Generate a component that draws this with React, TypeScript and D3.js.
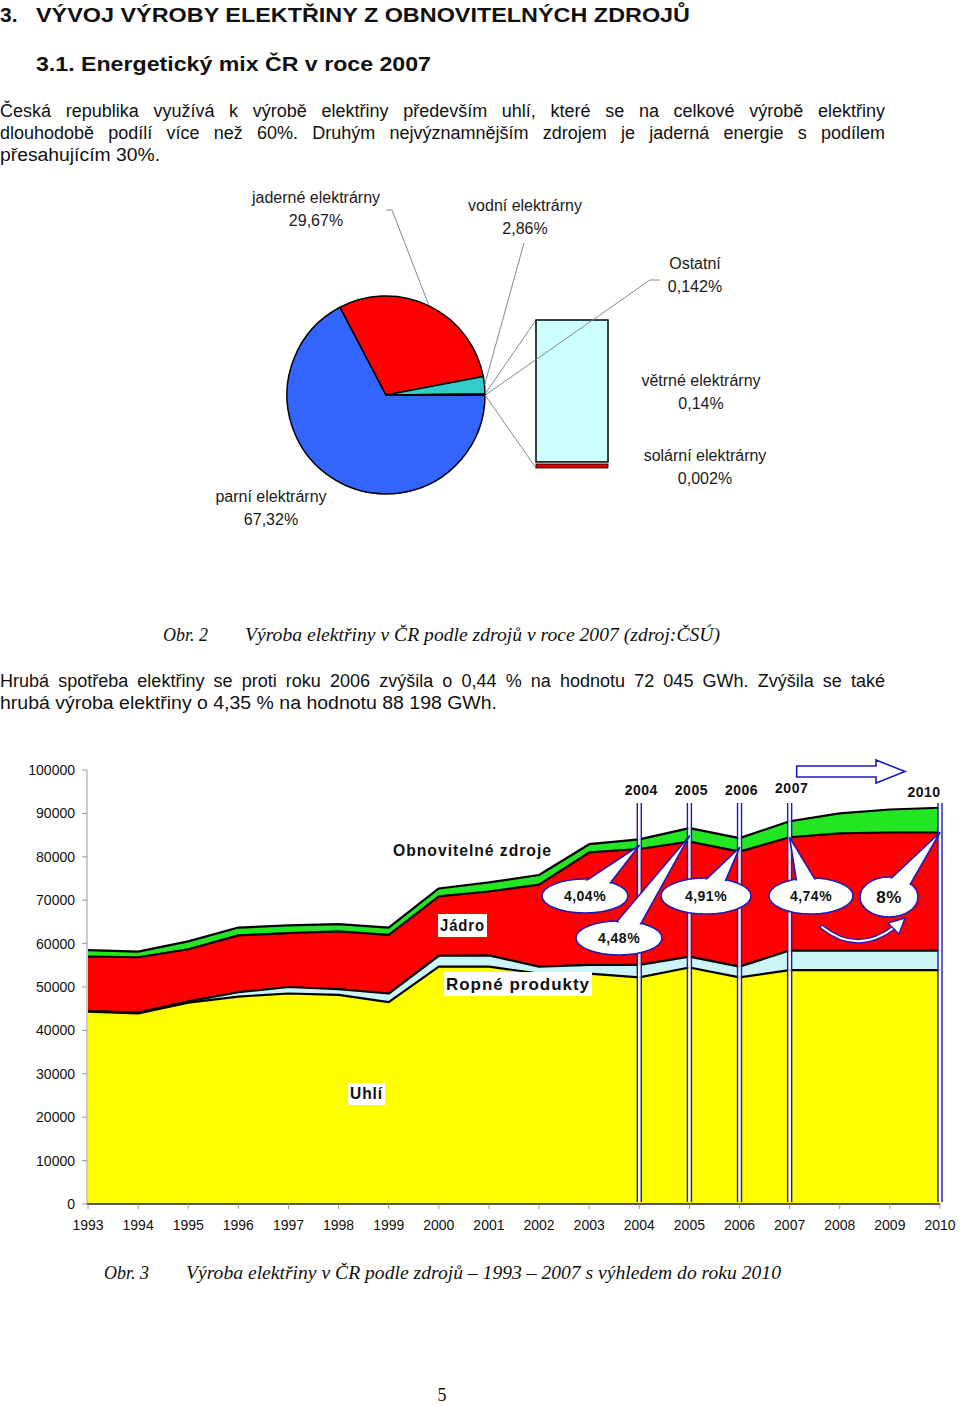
import React from "react";
import * as d3 from "d3";

// ---------- Pie data (2007 mix) ----------
const pieLabels = ["parní elektrárny", "jaderné elektrárny", "vodní elektrárny", "Ostatní"];
const pieValues = [67.32, 29.67, 2.86, 0.142];
const pieColors = ["#3366ff", "#ff0000", "#33cccc", "#ccffff"];
const pieTexts = ["67,32%", "29,67%", "2,86%", "0,142%"];

const barLabels = ["solární elektrárny", "větrné elektrárny"];
const barValues = [0.002, 0.14];
const barTexts = ["0,002%", "0,14%"];
const barColors = ["#e00000", "#ccffff"];

// ---------- Area chart data ----------
const years = [1993, 1994, 1995, 1996, 1997, 1998, 1999, 2000, 2001, 2002, 2003, 2004, 2005, 2006, 2007, 2008, 2009, 2010];
const coal = [44300, 43900, 46400, 47800, 48500, 48200, 46500, 54700, 54700, 53100, 53100, 52200, 54500, 52200, 53900, 53900, 53900, 53900];
const oil = [200, 200, 300, 1000, 1500, 1300, 2000, 2500, 2600, 1600, 2000, 2900, 2500, 2500, 4500, 4500, 4500, 4500];
const nuclear = [12500, 12750, 12000, 13100, 12400, 13300, 13500, 13700, 14700, 18900, 25900, 26700, 26500, 26500, 26100, 27000, 27200, 27200];
const renewables = [1500, 1300, 1800, 1800, 1800, 1700, 1700, 1800, 2100, 2200, 1900, 2200, 3100, 3100, 3700, 4600, 5300, 5700];
const seriesKeys = ["coal", "oil", "nuclear", "renewables"];
const seriesColors = ["#ffff00", "#ccf5f7", "#ff0000", "#22e622"];
const yTicks = [0, 10000, 20000, 30000, 40000, 50000, 60000, 70000, 80000, 90000, 100000];

const markYears = [2004, 2005, 2006, 2007, 2010];
const callouts = [
  { label: "4,04%", year: 2004, tipV: 82600, cx: 585, cy: 896, rx: 43, ry: 17, fs: 14 },
  { label: "4,48%", year: 2005, tipV: 84800, cx: 619, cy: 938, rx: 43, ry: 17, fs: 14 },
  { label: "4,91%", year: 2006, tipV: 82100, cx: 706, cy: 896, rx: 45, ry: 18, fs: 14 },
  { label: "4,74%", year: 2007, tipV: 84400, cx: 811, cy: 896, rx: 42, ry: 18, fs: 14 },
  { label: "8%", year: 2010, tipV: 85600, cx: 889, cy: 897, rx: 29, ry: 20, fs: 17 },
];

const SANS = "'Liberation Sans', Arial, Helvetica, sans-serif";
const SERIF = "'Liberation Serif', 'Times New Roman', serif";
const BLUE = "#1c1cb4";

let measureCtx: CanvasRenderingContext2D | null = null;
function measure(text: string, font: string): number {
  try {
    if (!measureCtx) measureCtx = document.createElement("canvas").getContext("2d");
    if (!measureCtx) return 0;
    measureCtx.font = font;
    return measureCtx.measureText(text).width;
  } catch (e) {
    return 0;
  }
}

function Justified({ text, x, y, width, size }: { text: string; x: number; y: number; width: number; size: number }) {
  const t = text.replace(/\s+/g, " ");
  const natural = measure(t, `${size}px 'Liberation Sans'`);
  const spaces = (t.match(/ /g) || []).length;
  if (natural > 0 && natural < width && spaces > 0) {
    const ws = (width - natural) / spaces;
    return <text x={x} y={y} fontSize={size} wordSpacing={ws}>{t}</text>;
  }
  return <text x={x} y={y} fontSize={size} textLength={width} lengthAdjust="spacingAndGlyphs">{t}</text>;
}

function PieSection() {
  const cx = 386, cy = 395, r = 99;
  const pie = d3.pie<number>().sort(null).startAngle(Math.PI / 2).endAngle(Math.PI / 2 + 2 * Math.PI);
  const arcs = pie(pieValues);
  const arc = d3.arc<d3.PieArcDatum<number>>().innerRadius(0).outerRadius(r);
  const pt = (a: number, rr = r) => [cx + rr * Math.sin(a), cy - rr * Math.cos(a)];

  const barX = 536, barW = 72;
  const yb = d3.scaleLinear().domain([0, d3.sum(barValues)]).range([468, 320]);
  const stackB = d3.cumsum(barValues);

  const ost = arcs[3];
  const p0 = pt(ost.startAngle);
  const p1 = pt(ost.endAngle);
  const jad = pt((arcs[1].startAngle + arcs[1].endAngle) / 2);
  const vod = pt((arcs[2].startAngle + arcs[2].endAngle) / 2);
  const ostM = pt((ost.startAngle + ost.endAngle) / 2);

  const lbl = (x: number, y: number, t1: string, t2: string, key: string) => (
    <g key={key} fontFamily={SANS} fontSize={16} fill="#1a1a1a" textAnchor="middle">
      <text x={x} y={y}>{t1}</text>
      <text x={x} y={y + 23}>{t2}</text>
    </g>
  );

  return (
    <g>
      {arcs.map((a, i) => (
        <path key={i} d={arc(a) || ""} transform={`translate(${cx},${cy})`} fill={pieColors[i]} stroke="#000" strokeWidth={1.5} />
      ))}
      {/* connectors to the exploded bar */}
      <line x1={p0[0]} y1={p0[1]} x2={barX} y2={yb(d3.sum(barValues))} stroke="#888" strokeWidth={1} />
      <line x1={p1[0]} y1={p1[1]} x2={barX} y2={yb(0)} stroke="#888" strokeWidth={1} />
      {barValues.map((v, i) => {
        const top = yb(stackB[i]);
        const bottom = yb(stackB[i] - v);
        const h = Math.max(4, bottom - top);
        return (
          <rect key={i} x={barX} y={i === 0 ? bottom - h : top} width={barW} height={i === 0 ? h : h - 4}
            fill={barColors[i]} stroke="#000" strokeWidth={i === 0 ? 0.8 : 1.5} />
        );
      })}
      {/* leader lines */}
      <polyline points={`386,210 392,210 ${jad[0]},${jad[1]}`} fill="none" stroke="#888" strokeWidth={1} />
      <polyline points={`524,243 ${vod[0]},${vod[1]}`} fill="none" stroke="#888" strokeWidth={1} />
      <polyline points={`660,280 650,280 ${ostM[0] + 1},${ostM[1]}`} fill="none" stroke="#888" strokeWidth={1} />
      {lbl(316, 203, pieLabels[1], pieTexts[1], "j")}
      {lbl(525, 211, pieLabels[2], pieTexts[2], "v")}
      {lbl(695, 269, pieLabels[3], pieTexts[3], "o")}
      {lbl(701, 386, barLabels[1], barTexts[1], "w")}
      {lbl(705, 461, barLabels[0], barTexts[0], "s")}
      {lbl(271, 502, pieLabels[0], pieTexts[0], "p")}
    </g>
  );
}

function AreaSection() {
  const x = d3.scaleLinear().domain([1993, 2010]).range([88, 940]);
  const y = d3.scaleLinear().domain([0, 100000]).range([1204, 770]);
  const rows = years.map((yr, i) => ({ year: yr, coal: coal[i], oil: oil[i], nuclear: nuclear[i], renewables: renewables[i] }));
  const stacked = d3.stack<any>().keys(seriesKeys)(rows);
  const area = d3.area<any>().x((d) => x(d.data.year)).y0((d) => y(d[0])).y1((d) => y(d[1]));
  const line = d3.line<any>().x((d) => x(d.data.year)).y((d) => y(d[1]));

  const callout = (c: typeof callouts[0], i: number) => {
    const tx = x(c.year), ty = y(c.tipV);
    const dx = tx - c.cx, dy = ty - c.cy;
    const len = Math.hypot(dx, dy);
    const px = -dy / len, py = dx / len;
    const w = 11;
    const b1 = [c.cx + px * w + dx * 0.1, c.cy + py * w + dy * 0.1];
    const b2 = [c.cx - px * w + dx * 0.1, c.cy - py * w + dy * 0.1];
    const tri = `M${tx},${ty}L${b1[0]},${b1[1]}L${b2[0]},${b2[1]}Z`;
    return (
      <g key={i}>
        <ellipse cx={c.cx} cy={c.cy} rx={c.rx} ry={c.ry} fill="#fff" stroke={BLUE} strokeWidth={1.6} />
        <path d={tri} fill="#fff" stroke={BLUE} strokeWidth={1.6} strokeLinejoin="round" />
        <ellipse cx={c.cx} cy={c.cy} rx={c.rx - 1.4} ry={c.ry - 1.4} fill="#fff" />
        <text x={c.cx} y={c.cy + c.fs * 0.36} textAnchor="middle" fontFamily={SANS} fontWeight="bold" fontSize={c.fs} letterSpacing={0.5} fill="#111">{c.label}</text>
      </g>
    );
  };

  const boxLabel = (t: string, bx: number, by: number, bw: number, bh: number, key: string) => (
    <g key={key}>
      <rect x={bx} y={by} width={bw} height={bh} fill="#fff" />
      <text x={bx + bw / 2} y={by + bh - 6} textAnchor="middle" fontFamily={SANS} fontWeight="bold" fontSize={17} letterSpacing={1} fill="#111" textLength={bw - 4} lengthAdjust="spacingAndGlyphs">{t}</text>
    </g>
  );

  return (
    <g>
      {/* axes */}
      <line x1={87} y1={y(100000)} x2={87} y2={y(0)} stroke="#999" strokeWidth={1} />
      {yTicks.map((t) => (
        <g key={t}>
          <line x1={82} x2={87} y1={y(t)} y2={y(t)} stroke="#999" />
          <text x={75} y={y(t) + 5} textAnchor="end" fontFamily={SANS} fontSize={14} fill="#111">{t}</text>
        </g>
      ))}
      {stacked.map((s, i) => (
        <path key={i} d={area(s) || ""} fill={seriesColors[i]} />
      ))}
      {stacked.map((s, i) => (
        <path key={"l" + i} d={line(s) || ""} fill="none" stroke="#000" strokeWidth={2.2} strokeLinejoin="round" />
      ))}
      <line x1={87} y1={y(0)} x2={940} y2={y(0)} stroke="#222" strokeWidth={1.5} />
      {years.map((yr) => (
        <g key={yr}>
          <line x1={x(yr)} x2={x(yr)} y1={y(0)} y2={y(0) + 5} stroke="#999" />
          <text x={x(yr)} y={1230} textAnchor="middle" fontFamily={SANS} fontSize={14} fill="#111">{yr}</text>
        </g>
      ))}

      {/* vertical marker lines */}
      {markYears.map((yr) => (
        <g key={"m" + yr}>
          <rect x={x(yr) - 2} y={803} width={4} height={y(0) - 803 - 2} fill="#fff" opacity={0.85} />
          <line x1={x(yr) - 2} x2={x(yr) - 2} y1={803} y2={y(0) - 2} stroke={BLUE} strokeWidth={1.4} />
          <line x1={x(yr) + 2} x2={x(yr) + 2} y1={803} y2={y(0) - 2} stroke={BLUE} strokeWidth={1.4} />
        </g>
      ))}
      {markYears.map((yr) => (
        <text key={"t" + yr} x={x(yr) + (yr === 2010 ? -16 : 2)} y={yr === 2007 ? 793 : yr === 2010 ? 797 : 795}
          textAnchor="middle" fontFamily={SANS} fontWeight="bold" fontSize={14} letterSpacing={0.5} fill="#111">{yr}</text>
      ))}

      {/* block arrow */}
      <path d={`M${x(2007.14)},766 L876,766 L876,760 L905,771.5 L876,783 L876,777 L${x(2007.14)},777 Z`} fill="#fff" stroke={BLUE} strokeWidth={1.6} />

      {/* labels */}
      <text x={393} y={856} fontFamily={SANS} fontWeight="bold" fontSize={16} letterSpacing={1} fill="#111" textLength={159} lengthAdjust="spacingAndGlyphs">Obnovitelné zdroje</text>
      {boxLabel("Jádro", 438, 914, 49, 23, "jad")}
      {boxLabel("Ropné produkty", 444, 972, 148, 24, "rop")}
      {boxLabel("Uhlí", 348, 1083, 37, 22, "uhl")}

      {callouts.map(callout)}

      {/* curved arrow 2007 -> 2010 */}
      <path d="M822,927 Q858,956 896,926" fill="none" stroke={BLUE} strokeWidth={4.5} strokeLinecap="round" />
      <path d="M822,927 Q858,956 896,926" fill="none" stroke="#fff" strokeWidth={2} strokeLinecap="round" />
      <path d="M888,923 L905,918 L899,934 Z" fill="#fff" stroke={BLUE} strokeWidth={1.4} strokeLinejoin="round" />
    </g>
  );
}

export default function App() {
  return (
    <svg width={960} height={1406} viewBox="0 0 960 1406" style={{ position: "absolute", left: 0, top: 0, background: "#fff" }}>
      <rect width={960} height={1406} fill="#fff" />
      {/* headings */}
      <g fontFamily={SANS} fontWeight="bold" fill="#111">
        <text x={0} y={22} fontSize={21}>3.</text>
        <text x={36} y={22} fontSize={21} textLength={654} lengthAdjust="spacingAndGlyphs">VÝVOJ VÝROBY ELEKTŘINY Z OBNOVITELNÝCH ZDROJŮ</text>
        <text x={36} y={71} fontSize={21} textLength={395} lengthAdjust="spacingAndGlyphs">3.1. Energetický mix ČR v roce 2007</text>
      </g>
      <g fontFamily={SANS} fill="#111">
        <Justified x={0} y={117} width={885} size={18} text="Česká republika využívá k výrobě elektřiny především uhlí, které se na celkové výrobě elektřiny" />
        <Justified x={0} y={139} width={885} size={18} text="dlouhodobě podílí více než 60%. Druhým nejvýznamnějším zdrojem je jaderná energie s podílem" />
        <text x={0} y={161} fontSize={18} textLength={160} lengthAdjust="spacingAndGlyphs">přesahujícím 30%.</text>
      </g>

      <PieSection />

      <g fontFamily={SERIF} fontStyle="italic" fontSize={18} fill="#111">
        <text x={163} y={641}>Obr. 2</text>
        <text x={245} y={641} textLength={475} lengthAdjust="spacingAndGlyphs">Výroba elektřiny v ČR podle zdrojů v roce 2007 (zdroj:ČSÚ)</text>
      </g>
      <g fontFamily={SANS} fill="#111">
        <Justified x={0} y={687} width={885} size={18} text="Hrubá spotřeba elektřiny se proti roku 2006 zvýšila o 0,44 % na hodnotu 72 045 GWh. Zvýšila se také" />
        <text x={0} y={709} fontSize={18} textLength={497} lengthAdjust="spacingAndGlyphs">hrubá výroba elektřiny o 4,35 % na hodnotu 88 198 GWh.</text>
      </g>

      <AreaSection />

      <g fontFamily={SERIF} fontStyle="italic" fontSize={18} fill="#111">
        <text x={104} y={1279}>Obr. 3</text>
        <text x={186} y={1279} textLength={595} lengthAdjust="spacingAndGlyphs">Výroba elektřiny v ČR podle zdrojů – 1993 – 2007 s výhledem do roku 2010</text>
      </g>
      <text x={442} y={1401} textAnchor="middle" fontFamily={SERIF} fontSize={18} fill="#111">5</text>
    </svg>
  );
}
